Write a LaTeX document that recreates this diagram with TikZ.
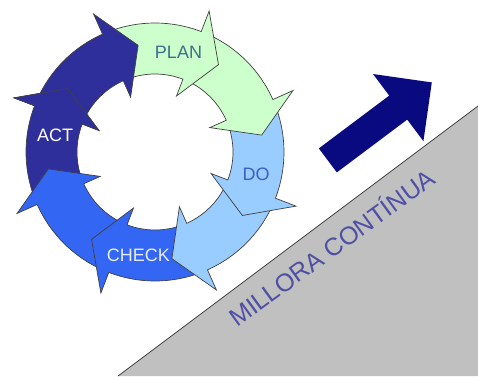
\documentclass[tikz,border=0pt]{standalone}
\usepackage{fontspec}
\setmainfont{Liberation Sans}
\definecolor{darkc}{HTML}{2F2F9C}
\definecolor{medc}{HTML}{3366F2}
\definecolor{lightc}{HTML}{99CCFF}
\definecolor{greenc}{HTML}{CCFFCC}
\definecolor{grayc}{HTML}{C0C0C0}
\definecolor{navyc}{HTML}{0A0A80}
\definecolor{plantxt}{HTML}{3D6E8C}
\definecolor{dotxt}{HTML}{3A5FC8}
\definecolor{checktxt}{HTML}{E6ECFF}
\definecolor{millortxt}{HTML}{4F4FA5}
\newcommand{\ringarrow}[2]{%
  \pgfmathsetmacro\rtail{#1+42}%
  \pgfmathsetmacro\rtip{#1-15}%
  \draw[seg, fill=#2] (\rtail:129) arc[start angle=\rtail, end angle=#1, radius=129pt]
    -- (#1:151) -- (\rtip:108) -- (#1:60) -- (#1:78)
    arc[start angle=#1, end angle=\rtail, radius=78pt] -- cycle;
}
\begin{document}
\begin{tikzpicture}[x=1pt,y=1pt,
  seg/.style={draw=black!75, line width=0.7pt, line join=miter},
  lbl/.style={font=\fontsize{18}{18}\selectfont, inner sep=0pt},
]
\useasboundingbox (0,0) rectangle (478,376);
\fill[white] (0,0) rectangle (478,376);
% slope
\fill[grayc] (118,0) -- (478,270) -- (478,0) -- cycle;
\draw[black!80, line width=0.7pt] (118,0) -- (478,270);
\node[font=\fontsize{25}{25}\selectfont, text=millortxt, inner sep=0pt, anchor=base west, rotate=36] (millora) at (237,48) {MILLORA CONTÍNUA};
% big arrow
\fill[navyc] (336.8,203.6) -- (407.2,256.4) -- (423.4,234.8) -- (431.8,293.6)
  -- (373,302) -- (389.2,280.4) -- (318.8,227.6) -- cycle;
% ring
\begin{scope}[shift={(155,224)}]
  \ringarrow{159}{darkc}
  \ringarrow{-156}{medc}
  \ringarrow{-111}{medc}
  \ringarrow{-66}{lightc}
  \ringarrow{-21}{lightc}
  \ringarrow{24}{greenc}
  \ringarrow{69}{greenc}
  \ringarrow{114}{darkc}
  \fill[darkc] (159:151) -- (144:108) -- (159:60) -- cycle;
  \draw[seg] (159:129) -- (159:151) -- (144:108) -- (159:60) -- (159:78);
\end{scope}
\node[lbl, text=plantxt] (plan) at (178.5,323.5) {PLAN};
\node[lbl, text=dotxt] (do) at (256,202) {DO};
\node[lbl, text=white] (act) at (55,241) {ACT};
\node[lbl, text=checktxt] (check) at (138.5,121) {CHECK};
\end{tikzpicture}
\end{document}
